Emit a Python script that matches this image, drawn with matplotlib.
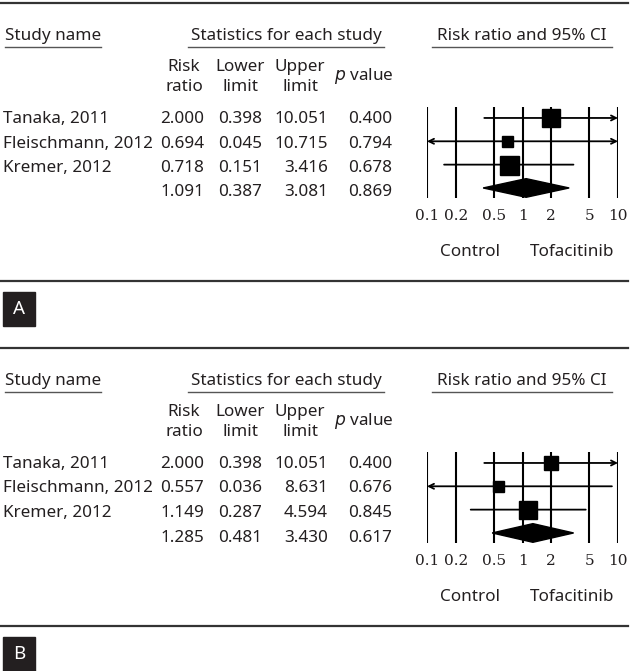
import numpy as np
import matplotlib.pyplot as plt

studies = ['Tanaka, 2011', 'Fleischmann, 2012', 'Kremer, 2012']

# panel A
rr_a = [2.000, 0.694, 0.718, 1.091]
lo_a = [0.398, 0.045, 0.151, 0.387]
hi_a = [10.051, 10.715, 3.416, 3.081]
p_a = [0.400, 0.794, 0.678, 0.869]

# panel B
rr_b = [2.000, 0.557, 1.149, 1.285]
lo_b = [0.398, 0.036, 0.287, 0.481]
hi_b = [10.051, 8.631, 4.594, 3.430]
p_b = [0.400, 0.676, 0.845, 0.617]

ticks = [0.1, 0.2, 0.5, 1, 2, 5, 10]
tick_labels = ['0.1', '0.2', '0.5', '1', '2', '5', '10']

# square sizes in px (study weights)
sq_a = [18, 11, 19]
sq_b = [14, 11, 18]

W, H = 638, 671
plt.rcParams['font.family'] = ['Noto Sans', 'DejaVu Sans']
fig = plt.figure(figsize=(W / 100, H / 100), dpi=100)
bg = fig.add_axes([0, 0, 1, 1])
bg.set_xlim(0, W)
bg.set_ylim(H, 0)
bg.axis('off')

fs = 12.3
ink = '#231f20'


def panel(top, rr, lo, hi, pv, sq, label):
    # top: pixel y of the top rule
    bg.plot([0, 628], [top, top], color='#333333', lw=1.6)
    bg.plot([0, 628], [top + 278, top + 278], color='#333333', lw=1.6)

    hy = top + 33
    bg.text(5, hy, 'Study name', fontsize=fs, va='center', color=ink)
    bg.text(286, hy, 'Statistics for each study', fontsize=fs, va='center', ha='center', color=ink)
    bg.text(522, hy, 'Risk ratio and 95% CI', fontsize=fs, va='center', ha='center', color=ink)
    uy = top + 44
    for x0, x1 in [(5, 101), (188, 384), (432, 612)]:
        bg.plot([x0, x1], [uy, uy], color='#555555', lw=1.0)

    for cx, t1, t2 in [(184, 'Risk', 'ratio'), (240, 'Lower', 'limit'), (300, 'Upper', 'limit')]:
        bg.text(cx, top + 64, t1, fontsize=fs, ha='center', va='center', color=ink)
        bg.text(cx, top + 84, t2, fontsize=fs, ha='center', va='center', color=ink)
    bg.text(364, top + 73, r'$\it{p}$ value', fontsize=fs, ha='center', va='center', color=ink)

    rows = [top + 116, top + 140.5, top + 165, top + 189.5]
    for i, y in enumerate(rows):
        if i < len(studies):
            bg.text(3, y, studies[i], fontsize=fs, va='center', color=ink)
        bg.text(204, y, f'{rr[i]:.3f}', fontsize=fs, va='center', ha='right', color=ink)
        bg.text(262, y, f'{lo[i]:.3f}', fontsize=fs, va='center', ha='right', color=ink)
        bg.text(328, y, f'{hi[i]:.3f}', fontsize=fs, va='center', ha='right', color=ink)
        bg.text(392, y, f'{pv[i]:.3f}', fontsize=fs, va='center', ha='right', color=ink)

    # label box
    bg.add_patch(plt.Rectangle((3, top + 289), 32, 34, color='#231f20'))
    bg.text(19, top + 306, label, color='white', fontsize=13.5, fontweight='bold',
            ha='center', va='center')

    bg.text(470, top + 249, 'Control', fontsize=fs, ha='center', va='center', color=ink)
    bg.text(572, top + 249, 'Tofacitinib', fontsize=fs, ha='center', va='center', color=ink)

    # forest plot
    y0, y1 = top + 104, top + 195
    ax = fig.add_axes([427 / W, 1 - y1 / H, (618 - 427) / W, (y1 - y0) / H])
    ax.set_xscale('log')
    ax.set_xlim(0.1, 10)
    ax.set_ylim(3.43, -0.47)
    ax.patch.set_alpha(0)
    for s in ax.spines.values():
        s.set_visible(False)
    ax.set_yticks([])
    ax.set_xticks(ticks)
    ax.set_xticklabels(tick_labels, family='DejaVu Serif', fontsize=11, color=ink)
    ax.minorticks_off()
    ax.tick_params(axis='x', length=0, pad=8)
    ax.vlines(ticks, 3.43, -0.47, color='k', lw=1.5)

    for i in range(3):
        x0 = max(lo[i], 0.1)
        x1 = min(hi[i], 10)
        style = ('<' if lo[i] < 0.1 else '') + '-' + ('>' if hi[i] > 10 else '')
        ax.annotate('', xy=(x1, i), xytext=(x0, i),
                    arrowprops=dict(arrowstyle=style, lw=1.3, color='k',
                                    shrinkA=0, shrinkB=0, mutation_scale=9))
        ax.plot(rr[i], i, marker='s', color='k', markersize=sq[i] * 0.72, zorder=5)

    ax.fill([lo[3], rr[3], hi[3], rr[3]], [3, 2.6, 3, 3.4], color='k', zorder=5)


panel(3, rr_a, lo_a, hi_a, p_a, sq_a, 'A')
panel(348, rr_b, lo_b, hi_b, p_b, sq_b, 'B')

fig.savefig('out.png', dpi=100)
